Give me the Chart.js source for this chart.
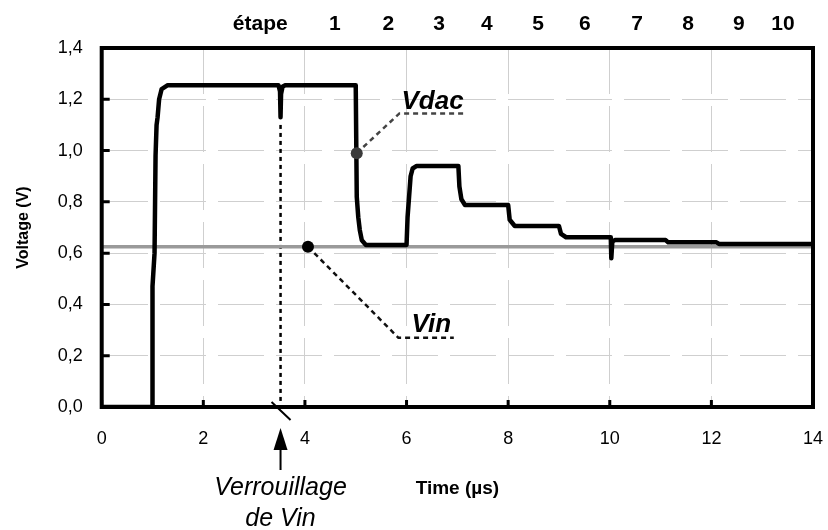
<!DOCTYPE html>
<html>
<head>
<meta charset="utf-8">
<script src="https://cdn.jsdelivr.net/npm/chart.js@4"></script>
<style>
  body { margin: 0; background: #fff; }
  canvas { display: block; }
</style>
</head>
<body>
<canvas id="vChart" width="828" height="530"></canvas>
<script>
// Tension de sortie du CNA pendant la conversion (temps en µs, tension en V)
const vdacTime = [0, 1.0, 1.0, 1.04, 1.06, 1.08, 1.10, 1.13, 1.18, 1.30, 3.48, 3.51, 3.52, 3.53, 3.56, 3.62,
  5.0, 5.02, 5.05, 5.08, 5.12, 5.2, 6.0, 6.02, 6.05, 6.08, 6.12, 6.2, 7.02, 7.04, 7.08, 7.15,
  8.0, 8.03, 8.13, 9.0, 9.04, 9.14, 10.02, 10.03, 10.05, 10.1, 11.1, 11.15, 12.1, 12.15, 14];
const vdacValues = [0, 0, 0.47, 0.6, 0.98, 1.1, 1.13, 1.2, 1.24, 1.255, 1.255, 1.23, 1.13, 1.22, 1.25, 1.255,
  1.255, 0.82, 0.74, 0.69, 0.65, 0.632, 0.632, 0.74, 0.82, 0.9, 0.93, 0.94, 0.94, 0.86, 0.81, 0.788,
  0.788, 0.73, 0.706, 0.706, 0.675, 0.662, 0.662, 0.58, 0.645, 0.651, 0.651, 0.642, 0.642, 0.636, 0.636];

// Tension d'entrée, constante
const vinTime = [0, 14];
const vinValues = [0.625, 0.625];

// Instant du verrouillage de Vin
const lockTime = [3.52, 3.52];
const lockValues = [1.1, 0];

// Étapes de conversion (axe du haut)
const stepPos = [3.12, 4.59, 5.64, 6.64, 7.58, 8.59, 9.51, 10.54, 11.54, 12.54, 13.41];
const stepLabels = ['étape', '1', '2', '3', '4', '5', '6', '7', '8', '9', '10'];

const xTicks = [0, 2, 4, 6, 8, 10, 12, 14];
const yTicks = [0, 0.2, 0.4, 0.6, 0.8, 1.0, 1.2, 1.4];

// Repères et traits de rappel des étiquettes
const vdacMarker = { x: 5.02, y: 0.99 };
const vdacLeaderTime = [5.02, 5.86, 7.14];
const vdacLeaderValues = [0.99, 1.145, 1.145];
const vinMarker = { x: 4.06, y: 0.625 };
const vinLeaderTime = [4.06, 5.84, 6.93];
const vinLeaderValues = [0.625, 0.27, 0.27];

const pts = (xs, ys) => xs.map((x, i) => ({ x: x, y: ys[i] }));
const FONT = "'Liberation Sans', Arial, sans-serif";

const framePlugin = {
    id: 'frame',
    afterDatasetsDraw(chart) {
        const { ctx, chartArea: a, scales: { x, y } } = chart;
        ctx.save();

        // petites graduations vers l'intérieur
        ctx.strokeStyle = '#000';
        ctx.lineWidth = 3;
        ctx.beginPath();
        yTicks.forEach(v => {
            const py = y.getPixelForValue(v);
            ctx.moveTo(a.left, py); ctx.lineTo(a.left + 8, py);
        });
        xTicks.forEach(v => {
            const px = x.getPixelForValue(v);
            ctx.moveTo(px, a.bottom); ctx.lineTo(px, a.bottom - 7);
        });
        ctx.stroke();

        // cadre
        ctx.lineWidth = 4;
        ctx.strokeRect(a.left, a.top, a.right - a.left, a.bottom - a.top);

        // trait oblique + flèche sous l'axe
        const lx = x.getPixelForValue(lockTime[0]);
        ctx.lineWidth = 2;
        ctx.beginPath();
        ctx.moveTo(lx - 9, a.bottom - 5);
        ctx.lineTo(lx + 10, a.bottom + 13);
        ctx.moveTo(lx, a.bottom + 42);
        ctx.lineTo(lx, a.bottom + 63);
        ctx.stroke();
        ctx.fillStyle = '#000';
        ctx.beginPath();
        ctx.moveTo(lx, a.bottom + 21);
        ctx.lineTo(lx - 7, a.bottom + 43);
        ctx.lineTo(lx + 7, a.bottom + 43);
        ctx.closePath();
        ctx.fill();

        ctx.textAlign = 'center';
        ctx.textBaseline = 'alphabetic';
        ctx.font = 'italic 25px ' + FONT;
        ctx.fillText('Verrouillage', lx, a.bottom + 88);
        ctx.fillText('de Vin', lx, a.bottom + 119);

        // titre de l'axe des temps
        ctx.font = 'bold 19px ' + FONT;
        ctx.fillText('Time (µs)', (a.left + a.right) / 2, a.bottom + 87);

        // étiquettes des courbes
        ctx.textAlign = 'left';
        ctx.font = 'italic bold 26px ' + FONT;
        ctx.fillText('Vdac', x.getPixelForValue(5.9), y.getPixelForValue(1.164));
        ctx.fillText('Vin', x.getPixelForValue(6.1), y.getPixelForValue(0.293));
        ctx.restore();
    }
};

const gridDash = [46, 12];

new Chart(document.getElementById('vChart'), {
    type: 'line',
    data: {
        datasets: [
            {
                label: 'Vdac', data: pts(vdacTime, vdacValues),
                borderColor: '#000', borderWidth: 4.5, pointRadius: 0,
                borderJoinStyle: 'round', borderCapStyle: 'round', order: 2
            },
            {
                label: 'Vin', data: pts(vinTime, vinValues),
                borderColor: '#9a9a9a', borderWidth: 3.5, pointRadius: 0, order: 3
            },
            {
                label: 'verrouillage', data: pts(lockTime, lockValues),
                borderColor: '#000', borderWidth: 2.5, borderDash: [4, 4], pointRadius: 0, order: 4
            },
            {
                label: 'rappel Vdac', data: pts(vdacLeaderTime, vdacLeaderValues),
                borderColor: '#444', borderWidth: 2.5, borderDash: [5, 4], pointRadius: 0, order: 1
            },
            {
                label: 'rappel Vin', data: pts(vinLeaderTime, vinLeaderValues),
                borderColor: '#111', borderWidth: 2.5, borderDash: [5, 4], pointRadius: 0, order: 1
            },
            {
                label: 'repère Vdac', data: [vdacMarker], showLine: false,
                pointRadius: 6, pointBackgroundColor: '#3a3a3a', pointBorderWidth: 0, order: 0
            },
            {
                label: 'repère Vin', data: [vinMarker], showLine: false,
                pointRadius: 6, pointBackgroundColor: '#000', pointBorderWidth: 0, order: 0
            }
        ]
    },
    options: {
        responsive: false,
        animation: false,
        layout: { padding: 0 },
        plugins: { legend: { display: false }, tooltip: { enabled: false } },
        elements: { line: { tension: 0 } },
        scales: {
            x: {
                type: 'linear', position: 'bottom', min: 0, max: 14,
                afterBuildTicks: axis => { axis.ticks = xTicks.map(v => ({ value: v })); },
                afterFit: axis => { axis.height = 123; axis.paddingLeft = 0; axis.paddingRight = 15; },
                grid: { color: '#cfcfcf', lineWidth: 1, drawTicks: false },
                border: { display: false, dash: gridDash },
                ticks: { color: '#000', font: { family: FONT, size: 18 }, padding: 21, maxRotation: 0 }
            },
            x2: {
                type: 'linear', position: 'top', min: 0, max: 14,
                afterBuildTicks: axis => { axis.ticks = stepPos.map(v => ({ value: v })); },
                afterFit: axis => { axis.height = 48; axis.paddingLeft = 0; axis.paddingRight = 0; },
                grid: { display: false, drawTicks: false },
                border: { display: false },
                ticks: {
                    color: '#000', font: { family: FONT, size: 21, weight: 'bold' },
                    padding: 11, autoSkip: false, maxRotation: 0,
                    callback: (v, i) => stepLabels[i]
                }
            },
            y: {
                min: 0, max: 1.4,
                afterBuildTicks: axis => { axis.ticks = yTicks.map(v => ({ value: v })); },
                afterFit: axis => { axis.width = 101.7; axis.paddingTop = 0; axis.paddingBottom = 0; },
                grid: { color: '#cfcfcf', lineWidth: 1, drawTicks: false },
                border: { display: false, dash: gridDash },
                ticks: {
                    color: '#000', font: { family: FONT, size: 18 }, padding: 19,
                    callback: v => v.toFixed(1).replace('.', ',')
                },
                title: {
                    display: true, text: 'Voltage (V)', color: '#000',
                    font: { family: FONT, size: 16, weight: 'bold' }, padding: { top: 14, bottom: 0 }
                }
            }
        }
    },
    plugins: [framePlugin]
});
</script>
</body>
</html>
